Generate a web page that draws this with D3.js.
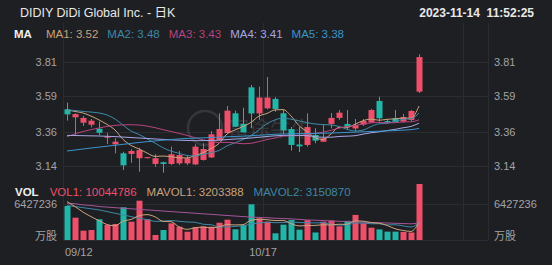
<!DOCTYPE html>
<html>
<head>
<meta charset="utf-8">
<script src="https://cdn.jsdelivr.net/npm/d3@7"></script>
<style>
  html, body { margin: 0; padding: 0; background: #1e1f23; }
  svg { display: block; font-family: "Liberation Sans", Arial, "Noto Sans CJK SC", sans-serif; }
</style>
</head>
<body>
<svg id="chart" width="552" height="265"></svg>
<script>
// ---- data ----
const dates = ["09/12","09/13","09/14","09/15","09/18","09/19","09/20","09/21","09/22","09/25",
  "09/26","09/27","09/28","09/29","10/02","10/03","10/04","10/05","10/06","10/09",
  "10/10","10/11","10/12","10/13","10/16","10/17","10/18","10/19","10/20","10/23",
  "10/24","10/25","10/26","10/27","10/30","10/31","11/01","11/02","11/03","11/06",
  "11/07","11/08","11/09","11/13","11/14"];

const open = [3.504,3.452,3.417,3.404,3.378,3.320,3.277,3.219,3.215,3.187,
  3.190,3.150,3.161,3.150,3.154,3.154,3.147,3.176,3.192,3.305,
  3.350,3.478,3.409,3.646,3.477,3.510,3.571,3.478,3.376,3.276,
  3.273,3.338,3.294,3.409,3.448,3.409,3.380,3.405,3.418,3.558,
  3.428,3.446,3.424,3.435,3.618];
const close = [3.471,3.473,3.448,3.430,3.352,3.327,3.294,3.141,3.234,3.240,
  3.194,3.187,3.150,3.213,3.208,3.187,3.262,3.247,3.342,3.376,
  3.495,3.391,3.355,3.477,3.580,3.580,3.506,3.367,3.273,3.264,
  3.389,3.301,3.316,3.448,3.482,3.389,3.402,3.428,3.499,3.446,
  3.418,3.420,3.454,3.493,3.842];
const high = [3.547,3.478,3.460,3.441,3.424,3.352,3.316,3.229,3.245,3.255,
  3.195,3.213,3.165,3.262,3.234,3.202,3.277,3.284,3.363,3.478,
  3.525,3.495,3.514,3.661,3.650,3.713,3.583,3.499,3.389,3.389,
  3.478,3.381,3.409,3.480,3.499,3.499,3.441,3.441,3.506,3.585,
  3.441,3.499,3.473,3.499,3.860];
const low = [3.431,3.338,3.396,3.387,3.338,3.279,3.219,3.111,3.158,3.100,
  3.185,3.132,3.094,3.143,3.143,3.143,3.143,3.172,3.189,3.299,
  3.347,3.389,3.354,3.381,3.435,3.504,3.488,3.342,3.237,3.227,
  3.262,3.284,3.292,3.381,3.435,3.370,3.363,3.396,3.415,3.424,
  3.409,3.415,3.418,3.428,3.609];

const volume = [6100000,4000000,1670000,1790000,3710000,2690000,2870000,5860000,3280000,7050000,
  3710000,900000,1790000,2990000,2380000,1490000,2300000,2450000,2380000,3100000,
  3650000,1920000,2690000,6400000,3890000,3280000,1200000,2750000,3590000,1850000,
  3550000,1350000,3280000,3500000,2450000,3430000,4500000,3000000,2200000,1900000,
  1500000,1500000,1450000,1350000,10044786];

const ma1 = [3.499,3.490,3.480,3.460,3.435,3.406,3.370,3.309,3.270,3.247,
  3.221,3.199,3.201,3.197,3.190,3.189,3.204,3.223,3.249,3.283,
  3.344,3.370,3.392,3.419,3.460,3.477,3.500,3.502,3.461,3.398,
  3.360,3.319,3.309,3.344,3.387,3.387,3.407,3.430,3.440,3.433,
  3.439,3.442,3.447,3.446,3.525];
const ma2 = [3.499,3.496,3.490,3.486,3.480,3.467,3.441,3.402,3.363,3.341,
  3.313,3.285,3.255,3.233,3.219,3.205,3.202,3.212,3.223,3.237,
  3.267,3.287,3.308,3.334,3.371,3.411,3.435,3.447,3.440,3.429,
  3.418,3.409,3.405,3.402,3.393,3.374,3.363,3.369,3.392,3.410,
  3.413,3.425,3.439,3.443,3.479];
const ma3 = [3.327,3.345,3.360,3.372,3.383,3.393,3.400,3.403,3.404,3.402,
  3.395,3.385,3.372,3.360,3.348,3.335,3.320,3.306,3.296,3.289,
  3.290,3.286,3.281,3.284,3.295,3.308,3.318,3.330,3.332,3.333,
  3.342,3.348,3.356,3.368,3.382,3.392,3.399,3.408,3.416,3.419,
  3.416,3.417,3.422,3.423,3.436];
const ma4 = [3.335,3.334,3.333,3.332,3.331,3.329,3.327,3.324,3.321,3.318,
  3.315,3.312,3.309,3.306,3.304,3.302,3.301,3.301,3.302,3.304,
  3.308,3.311,3.314,3.318,3.323,3.328,3.332,3.335,3.336,3.335,
  3.333,3.327,3.323,3.323,3.328,3.330,3.333,3.343,3.352,3.358,
  3.366,3.374,3.384,3.393,3.414];
const ma5 = [3.234,3.240,3.247,3.253,3.259,3.265,3.271,3.277,3.283,3.289,
  3.294,3.299,3.304,3.308,3.312,3.315,3.317,3.319,3.321,3.323,
  3.326,3.328,3.330,3.333,3.336,3.339,3.342,3.344,3.345,3.346,
  3.347,3.348,3.349,3.350,3.352,3.354,3.356,3.358,3.360,3.362,
  3.364,3.366,3.369,3.372,3.380];

const mavol1 = [6900000,6000000,5000000,4200000,3450000,2770000,2550000,3380000,3680000,4350000,
  4550000,4160000,3350000,3290000,2350000,1910000,2190000,2320000,2200000,2340000,
  2780000,2700000,2750000,3550000,3710000,3640000,3490000,3500000,2940000,2530000,
  2590000,2620000,2720000,2710000,2830000,2800000,3430000,3380000,3120000,3010000,
  2620000,2020000,1710000,1540000,3203388];
const mavol2 = [6200000,6000000,5800000,5600000,5400000,5100000,4800000,4500000,4200000,3900000,
  3660000,3350000,3370000,3490000,3350000,3230000,3180000,2830000,2740000,2350000,
  2340000,2450000,2540000,2880000,3030000,3210000,3100000,3130000,3250000,3120000,
  3110000,3060000,3110000,2820000,2680000,2700000,3030000,3050000,2910000,2920000,
  2710000,2730000,2540000,2330000,3150870];
const mavol3 = [6600000,6500000,6300000,6200000,6000000,5900000,5800000,5700000,5600000,5500000,
  5400000,5300000,5200000,5100000,5000000,4900000,4800000,4700000,4600000,4500000,
  4400000,4300000,4200000,4100000,4050000,4000000,3900000,3850000,3800000,3700000,
  3600000,3550000,3500000,3400000,3350000,3300000,3250000,3200000,3150000,3100000,
  3050000,3000000,2950000,2900000,3100000];

const priceTicks = [3.14, 3.36, 3.59, 3.81];
const volTicks = [6427236];
const volUnit = "万股";
const dateTicks = ["09/12", "10/17"];
const gridIndex = [0, 25, 50];

const maNames = ["MA1", "MA2", "MA3", "MA4", "MA5"];
const maValues = ["3.52", "3.48", "3.43", "3.41", "3.38"];
const volNames = ["VOL1", "MAVOL1", "MAVOL2"];
const volValues = ["10044786", "3203388", "3150870"];

const title = "DIDIY DiDi Global Inc. - 日K";
const stamp = "2023-11-14  11:52:25";

// ---- style ----
const UP = "#ef4f6b", DOWN = "#22b6a9";
const maColors = ["#c9a27b", "#3d88a6", "#b5447e", "#a5a6e3", "#3a94cc"];
const volColors = [UP, "#c9a27b", "#3d88a6"];
const GRID = "#2b2c31", AXIS_TXT = "#a3a3a6";

const svg = d3.select("#chart");
const plotLeft = 63, plotRight = 488, plotTop = 23, plotBottom = 240;

const x = d3.scaleLinear().domain([0, dates.length - 1]).range([67, 419]);
const yP = d3.scaleLinear().domain([3.14, 3.81]).range([165.5, 62]);
const yV = d3.scaleLinear().domain([0, 10044786]).range([plotBottom, 184]);

// grid
const grid = svg.append("g").attr("stroke", GRID).attr("stroke-width", 1);
grid.selectAll(".vg").data(gridIndex).enter().append("line")
  .attr("x1", d => Math.round(x(d) - 4) + 0.5).attr("x2", d => Math.round(x(d) - 4) + 0.5)
  .attr("y1", plotTop).attr("y2", plotBottom);
grid.append("line").attr("x1", plotRight + 0.5).attr("x2", plotRight + 0.5)
  .attr("y1", plotTop).attr("y2", plotBottom);
grid.selectAll(".hg").data(priceTicks).enter().append("line")
  .attr("x1", plotLeft).attr("x2", plotRight)
  .attr("y1", d => Math.round(yP(d)) + 0.5).attr("y2", d => Math.round(yP(d)) + 0.5);
grid.selectAll(".vhg").data(volTicks.concat([0])).enter().append("line")
  .attr("x1", plotLeft).attr("x2", plotRight)
  .attr("y1", d => Math.round(yV(d)) + 0.5).attr("y2", d => Math.round(yV(d)) + 0.5);

// watermark
const wm = svg.append("g").attr("opacity", 0.13);
wm.append("circle").attr("cx", 205).attr("cy", 128).attr("r", 17)
  .attr("fill", "none").attr("stroke", "#d0d0d0").attr("stroke-width", 2.5);
wm.append("text").attr("x", 228).attr("y", 136).attr("font-size", 21)
  .attr("fill", "#d0d0d0").attr("font-family", "Noto Sans CJK SC").text("富途牛牛");

// axis labels
const axisTxt = svg.append("g").attr("fill", AXIS_TXT).attr("font-size", 11);
axisTxt.selectAll(".pl").data(priceTicks).enter().append("text")
  .attr("x", 57).attr("y", d => yP(d) + 4).attr("text-anchor", "end").text(d => d.toFixed(2));
axisTxt.selectAll(".pr").data(priceTicks).enter().append("text")
  .attr("x", 494).attr("y", d => yP(d) + 4).text(d => d.toFixed(2));
axisTxt.selectAll(".vl").data(volTicks).enter().append("text")
  .attr("x", 57).attr("y", d => yV(d) + 4).attr("text-anchor", "end").text(d => d);
axisTxt.selectAll(".vr").data(volTicks).enter().append("text")
  .attr("x", 494).attr("y", d => yV(d) + 4).text(d => d);
axisTxt.append("text").attr("x", 57).attr("y", 240).attr("text-anchor", "end").text(volUnit);
axisTxt.append("text").attr("x", 494).attr("y", 240).text(volUnit);
axisTxt.selectAll(".dt").data(dateTicks).enter().append("text")
  .attr("x", d => { const i = dates.indexOf(d); return i === 0 ? 65 : x(i) - 4; })
  .attr("y", 256)
  .attr("text-anchor", d => dates.indexOf(d) === 0 ? "start" : "middle")
  .text(d => d);

// candles
const idx = d3.range(dates.length);
const isUp = i => close[i] >= open[i];
const candles = svg.append("g");
candles.selectAll(".wick").data(idx).enter().append("line")
  .attr("x1", i => Math.round(x(i)) + 0.5).attr("x2", i => Math.round(x(i)) + 0.5)
  .attr("y1", i => yP(high[i])).attr("y2", i => yP(low[i]))
  .attr("stroke", i => isUp(i) ? UP : DOWN);
candles.selectAll(".body").data(idx).enter().append("rect")
  .attr("x", i => Math.round(x(i)) - 2.5).attr("width", 6)
  .attr("y", i => yP(Math.max(open[i], close[i])))
  .attr("height", i => Math.max(1, Math.abs(yP(open[i]) - yP(close[i]))))
  .attr("fill", i => isUp(i) ? UP : DOWN);

// MA lines
const maLine = d3.line().x((d, i) => x(i)).y(d => yP(d)).curve(d3.curveMonotoneX);
[ma1, ma2, ma3, ma4, ma5].forEach((s, k) => {
  svg.append("path").datum(s).attr("d", maLine)
    .attr("fill", "none").attr("stroke", maColors[k]).attr("stroke-width", 1);
});

// volume bars
svg.append("g").selectAll("rect").data(idx).enter().append("rect")
  .attr("x", i => Math.round(x(i)) - 2.5).attr("width", 6)
  .attr("y", i => yV(volume[i])).attr("height", i => yV(0) - yV(volume[i]))
  .attr("fill", i => isUp(i) ? UP : DOWN);

const volLine = d3.line().x((d, i) => x(i)).y(d => yV(d)).curve(d3.curveMonotoneX);
[[mavol3, "#a4559a"], [mavol2, "#3d88a6"], [mavol1, "#c9a27b"]].forEach(([s, c]) => {
  svg.append("path").datum(s).attr("d", volLine)
    .attr("fill", "none").attr("stroke", c).attr("stroke-width", 1);
});

// header
svg.append("text").attr("x", 20).attr("y", 17).attr("font-size", 12.5)
  .attr("fill", "#e8e8e8").text(title);
svg.append("text").attr("x", 534).attr("y", 17).attr("font-size", 12)
  .attr("text-anchor", "end").attr("fill", "#e8e8e8").attr("font-weight", "bold")
  .style("white-space", "pre").text(stamp);

const maRow = svg.append("text").attr("x", 14).attr("y", 38).attr("font-size", 11.5);
maRow.append("tspan").attr("fill", "#f0f0f0").attr("font-weight", "bold").text("MA");
maNames.forEach((n, k) => {
  maRow.append("tspan").attr("dx", k === 0 ? 14 : 9).attr("fill", maColors[k])
    .text(n + ": " + maValues[k]);
});

const volRow = svg.append("text").attr("x", 15).attr("y", 196).attr("font-size", 11.5);
volRow.append("tspan").attr("fill", "#f0f0f0").attr("font-weight", "bold").text("VOL");
volNames.forEach((n, k) => {
  volRow.append("tspan").attr("dx", k === 0 ? 11 : 10).attr("fill", volColors[k])
    .text(n + ": " + volValues[k]);
});
</script>
</body>
</html>
